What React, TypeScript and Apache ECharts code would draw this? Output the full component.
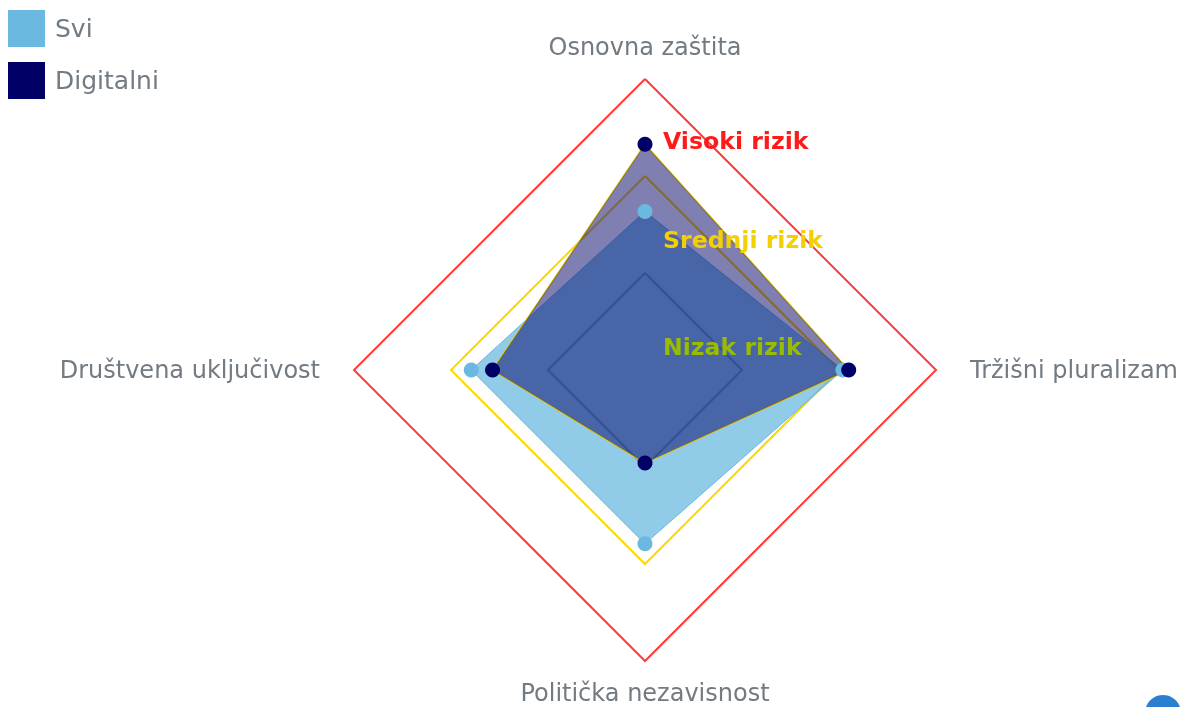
import React, { useEffect, useRef } from "react";
import * as echarts from "echarts";

const indicators = [
  "Osnovna zaštita",
  "Društvena uključivost",
  "Politička nezavisnost",
  "Tržišni pluralizam",
];
const sviValues = [54.5, 59.7, 59.7, 68];
const digitalniValues = [77.6, 52.4, 32, 70];
const riskLabels = ["Nizak rizik", "Srednji rizik", "Visoki rizik"];
const riskColors = ["#99bb00", "#f5d000", "#ff1a1a"];
const ringColors = ["rgba(0,0,0,0)", "#3d5e80", "#ffd700", "#ff3b3b"];

const FONT = "DejaVu Sans, Verdana, sans-serif";

export default function App() {
  const ref = useRef<HTMLDivElement>(null);
  useEffect(() => {
    if (!ref.current) return;
    const chart = echarts.init(ref.current, undefined, { renderer: "svg" });
    const cx = 645;
    const cy = 370;
    const r = 291;
    chart.setOption({
      animation: false,
      textStyle: { fontFamily: FONT },
      legend: {
        orient: "vertical",
        left: 8,
        top: 10,
        padding: 0,
        itemWidth: 37,
        itemHeight: 37,
        itemGap: 15,
        icon: "rect",
        textStyle: {
          fontSize: 25,
          color: "#727a82",
          fontFamily: FONT,
          padding: [0, 0, 0, 5],
        },
        data: ["Svi", "Digitalni"],
      },
      radar: {
        center: [cx, cy],
        radius: r,
        startAngle: 90,
        splitNumber: 3,
        shape: "polygon",
        nameGap: 20,
        axisName: {
          color: "#727a82",
          fontSize: 24,
          fontFamily: FONT,
          padding: [0, 14],
        },
        axisLine: { show: false },
        axisTick: { show: false },
        axisLabel: { show: false },
        splitArea: { show: false },
        splitLine: { lineStyle: { color: ringColors, width: 2 } },
        indicator: indicators.map((name) => ({ name, min: 0, max: 100 })),
      },
      series: [
        {
          type: "radar",
          symbol: "circle",
          symbolSize: 15,
          data: [
            {
              name: "Svi",
              value: sviValues,
              itemStyle: { color: "#6bb9e0" },
              lineStyle: { color: "#6bb9e0", width: 1 },
              areaStyle: { color: "#6bb9e0", opacity: 0.75 },
            },
            {
              name: "Digitalni",
              value: digitalniValues,
              itemStyle: { color: "#000066" },
              lineStyle: { color: "#e8c800", width: 1.5 },
              areaStyle: { color: "#000066", opacity: 0.5 },
            },
          ],
        },
      ],
      graphic: [
        ...riskLabels.map((t, i) => ({
          type: "text",
          left: 663,
          top: [335, 228, 129][i],
          z: 100,
          style: {
            text: t,
            fill: riskColors[i],
            font: `bold 23.6px ${FONT}`,
          },
        })),
        {
          type: "circle",
          shape: { cx: 1163, cy: 713, r: 18 },
          style: { fill: "#2a7fd0" },
        },
      ],
    });
    return () => chart.dispose();
  }, []);
  return (
    <div
      ref={ref}
      style={{ position: "fixed", left: 0, top: 0, width: 1184, height: 707 }}
    />
  );
}
